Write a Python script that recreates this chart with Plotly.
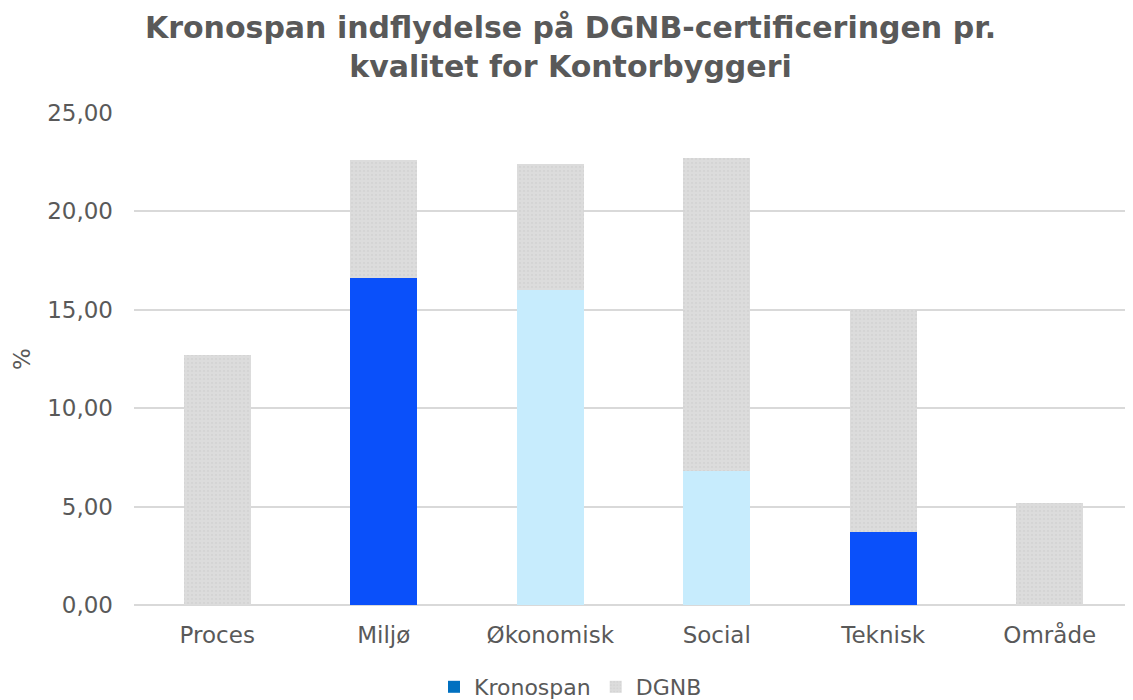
import plotly.graph_objects as go

categories = ["Proces", "Miljø", "Økonomisk", "Social", "Teknisk", "Område"]
kronospan = [0.0, 16.6, 16.0, 6.8, 3.7, 0.0]
dgnb_total = [12.7, 22.6, 22.4, 22.7, 15.0, 5.2]
dgnb_rest = [round(t - k, 2) for t, k in zip(dgnb_total, kronospan)]
y_ticks = [0, 5, 10, 15, 20, 25]

BRIGHT = "#0A50FA"
LIGHT = "#C7ECFD"
LEGEND_BLUE = "#0070C0"
kr_colors = [LEGEND_BLUE, BRIGHT, LIGHT, LIGHT, BRIGHT, LEGEND_BLUE]
TXT = "#595959"
FONT = "DejaVu Sans"

fig = go.Figure()
fig.add_trace(go.Bar(
    x=categories, y=kronospan, name="Kronospan",
    marker=dict(color=kr_colors, line=dict(width=0)),
))
fig.add_trace(go.Bar(
    x=categories, y=dgnb_rest, name="DGNB",
    marker=dict(color="#D9D9D9", line=dict(width=0),
                pattern=dict(shape=".", fgcolor="#CCCCCC", bgcolor="#DCDCDC",
                             size=4, solidity=0.25)),
))

W, H = 1125, 692
fig.update_layout(
    barmode="stack",
    bargap=0.6,
    width=W, height=H,
    paper_bgcolor="white", plot_bgcolor="white",
    margin=dict(l=126, r=0, t=105, b=95),
    font=dict(family=FONT, color=TXT, size=23),
    title=dict(
        text="Kronospan indflydelse på DGNB-certificeringen pr.<br>kvalitet for Kontorbyggeri",
        x=0.5, xref="container", xanchor="center",
        y=1 - 30 / H, yref="container", yanchor="top",
        font=dict(family=FONT, size=30, color=TXT, weight="bold"),
    ),
    showlegend=True,
    legend=dict(
        orientation="h", x=0.5, xref="container", xanchor="center",
        y=13 / H, yref="container", yanchor="middle",
        traceorder="normal",
        font=dict(size=22, color=TXT),
        itemwidth=30,
    ),
    xaxis=dict(
        showgrid=False, showline=False, zeroline=False,
        ticks="", tickfont=dict(size=23, color=TXT),
        ticklabelstandoff=14,
    ),
    yaxis=dict(
        range=[0, 25], tickvals=y_ticks, tickformat=".2f",
        showgrid=True, gridcolor="#D9D9D9", gridwidth=2,
        zeroline=True, zerolinecolor="#D9D9D9", zerolinewidth=2,
        showline=False, ticks="",
        tickfont=dict(size=23, color=TXT),
        ticklabelstandoff=20,
        title=dict(text="%", font=dict(size=23, color=TXT), standoff=10),
    ),
    separators=",.",
)

fig.write_html("out.html")
